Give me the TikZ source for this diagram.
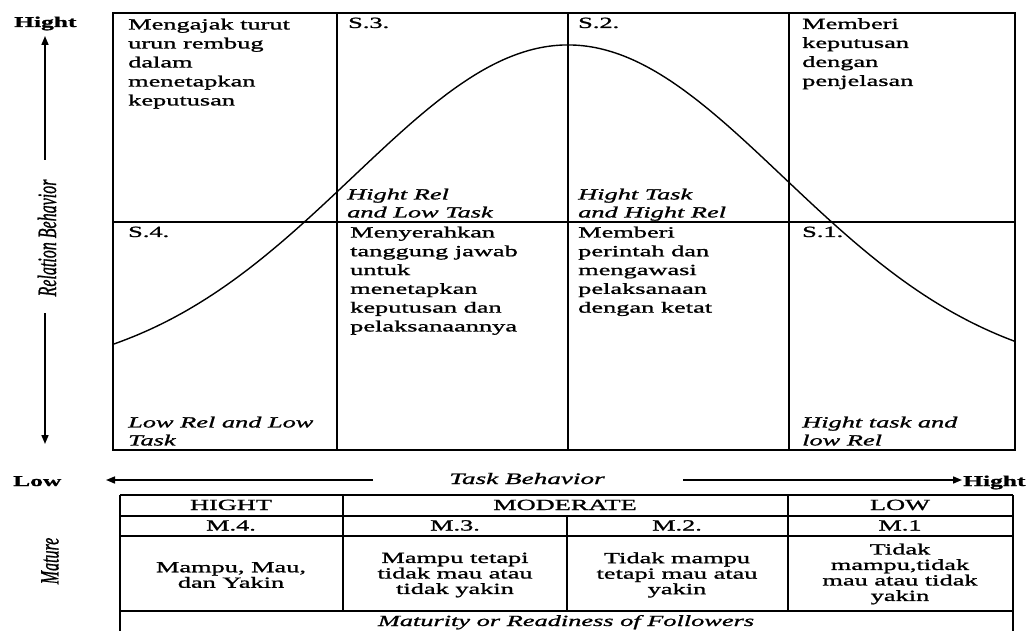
\documentclass[tikz,border=0pt]{standalone}
\usepackage{fontspec}
\usepackage{graphicx}
\setmainfont{Liberation Serif}[FakeStretch=1.7,FakeBold=1.2]
\newfontfamily\rotfont{Liberation Serif}[FakeBold=1.2]
\usetikzlibrary{arrows.meta}
\begin{document}
\begin{tikzpicture}[x=1pt,y=-1pt,
  frame/.style={line width=1.8pt},
  tbl/.style={line width=1.6pt},
  curve/.style={line width=1.4pt},
  axis/.style={line width=1.6pt,-{Triangle[length=9pt,width=7pt]}},
  qtext/.style={anchor=north west,inner sep=0pt,align=left,font=\fontsize{15.5}{18.8}\selectfont},
  qital/.style={qtext,font=\fontsize{15.5}{18}\selectfont\itshape},
  axlabel/.style={anchor=base west,inner sep=0pt,font=\fontsize{15}{18}\selectfont\bfseries},
  hdr/.style={anchor=base,inner sep=0pt,font=\fontsize{15.5}{18}\selectfont},
  cell/.style={anchor=center,inner sep=0pt,align=center,font=\fontsize{15.5}{15.5}\selectfont},
  rotlabel/.style={rotate=90,inner sep=0pt,anchor=center}
]
\useasboundingbox (0,0) rectangle (1034,631);
\fill[white] (0,0) rectangle (1034,631);

% main quadrant frame
\draw[frame] (113,13) rectangle (1015,450);
\draw[frame] (113,222) -- (1015,222);
\draw[frame] (337,13) -- (337,450);
\draw[frame] (568,13) -- (568,450);
\draw[frame] (789,13) -- (789,450);

% bell curve
\draw[curve] plot[domain=113:1015,samples=220,smooth]
  (\x,{380-335*exp(-0.5*((\x-568)/215)*((\x-568)/215))});

% quadrant texts
\node[qtext,font=\fontsize{15.5}{19}\selectfont] (tl) at (128,18.5) {Mengajak turut\\urun rembug\\dalam\\menetapkan\\keputusan};
\node[qtext] (s3) at (348,17.5) {S.3.};
\node[qtext] (s2) at (578,17.5) {S.2.};
\node[qtext,font=\fontsize{15.5}{19}\selectfont] (tr) at (802,18) {Memberi\\keputusan\\dengan\\penjelasan};
\node[qital] (hrlt) at (347,188.5) {Hight Rel\\and Low Task};
\node[qital] (hthr) at (578,188.5) {Hight Task\\and Hight Rel};
\node[qtext] (s4) at (128,226.5) {S.4.};
\node[qtext] (bl2) at (350,226.5) {Menyerahkan\\tanggung jawab\\untuk\\menetapkan\\keputusan dan\\pelaksanaannya};
\node[qtext] (bl3) at (578,226.5) {Memberi\\perintah dan\\mengawasi\\pelaksanaan\\dengan ketat};
\node[qtext] (s1) at (802,226.5) {S.1.};
\node[qital] (lrlt) at (128,416.5) {Low Rel and Low\\Task};
\node[qital] (htlr) at (802,416.5) {Hight task and\\low Rel};

% vertical axis
\node[axlabel] (yhi) at (14,27) {Hight};
\coordinate (vtop) at (45,36);
\coordinate (vup) at (45,160);
\coordinate (vdn) at (45,313);
\coordinate (vbot) at (45,444);
\draw[axis] (vup) -- (vtop);
\draw[axis] (vdn) -- (vbot);
\node[rotlabel] (rb) at (47,238) {\scalebox{1}[1.65]{\rotfont\fontsize{16}{18}\selectfont\itshape Relation Behavior}};

% horizontal axis
\node[axlabel] (xlo) at (13,486) {Low};
\node[axlabel] (xhi) at (963,486) {Hight};
\node[anchor=base,inner sep=0pt,font=\fontsize{16}{18}\selectfont\itshape] (tb) at (527,484) {Task Behavior};
\coordinate (hl1) at (373,480);
\coordinate (hl2) at (106,480);
\coordinate (hr1) at (683,480);
\coordinate (hr2) at (962,480);
\draw[axis] (hl1) -- (hl2);
\draw[axis] (hr1) -- (hr2);

% table
\draw[tbl] (120,495) -- (1013,495);
\draw[tbl] (120,516) -- (1013,516);
\draw[tbl] (120,536) -- (1013,536);
\draw[tbl] (120,611) -- (1013,611);
\draw[tbl] (120,495) -- (120,632);
\draw[tbl] (1013,495) -- (1013,632);
\draw[tbl] (343,495) -- (343,611);
\draw[tbl] (788,495) -- (788,611);
\draw[tbl] (567,516) -- (567,611);

\node[hdr] (hh) at (231,510) {HIGHT};
\node[hdr] (hm) at (565,510) {MODERATE};
\node[hdr] (hl) at (900,510) {LOW};
\node[hdr] (m4) at (231,530.5) {M.4.};
\node[hdr] (m3) at (455,530.5) {M.3.};
\node[hdr] (m2) at (677,530.5) {M.2.};
\node[hdr] (m1) at (900,530.5) {M.1};
\node[cell] (c1) at (231,575) {Mampu, Mau,\\dan Yakin};
\node[cell] (c2) at (455,575) {Mampu tetapi\\tidak mau atau\\tidak yakin};
\node[cell] (c3) at (677,575) {Tidak mampu\\tetapi mau atau\\yakin};
\node[cell] (c4) at (900,574) {Tidak\\mampu,tidak\\mau atau tidak\\yakin};
\node[hdr,font=\fontsize{15.5}{18}\selectfont\itshape] (mr) at (566,626) {Maturity or Readiness of Followers};

\node[rotlabel] (mat) at (50,561) {\scalebox{1}[1.65]{\rotfont\fontsize{16}{18}\selectfont\itshape Mature}};
\end{tikzpicture}
\end{document}
